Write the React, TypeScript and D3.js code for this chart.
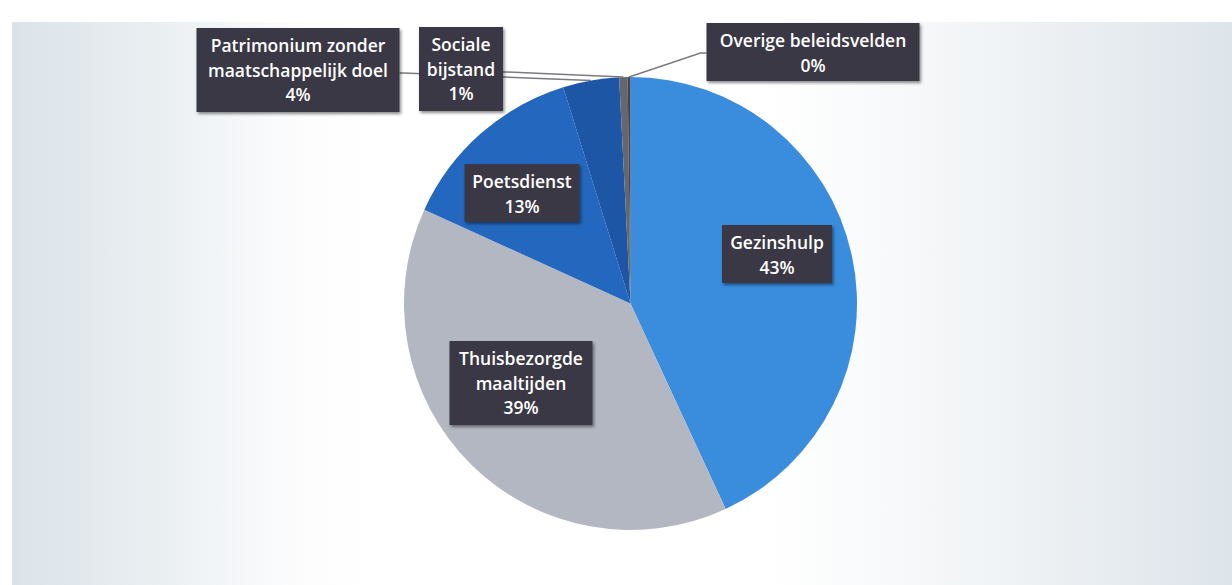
import React from "react";
import * as d3 from "d3";

const categories = [
  "Gezinshulp",
  "Thuisbezorgde maaltijden",
  "Poetsdienst",
  "Patrimonium zonder maatschappelijk doel",
  "Sociale bijstand",
  "Overige beleidsvelden",
];
const values = [43.1, 38.7, 13.4, 4.0, 0.6, 0.2];
const labelLines = [
  ["Gezinshulp"],
  ["Thuisbezorgde", "maaltijden"],
  ["Poetsdienst"],
  ["Patrimonium zonder", "maatschappelijk doel"],
  ["Sociale", "bijstand"],
  ["Overige beleidsvelden"],
];
const colors = ["#3a8cdd", "#b3b7c1", "#2467bf", "#1d56a4", "#66666f", "#44444c"];

// label box layout (center x, top y, width)
const boxes = [
  { cx: 777, top: 225, w: 110 },
  { cx: 521, top: 341, w: 143 },
  { cx: 522, top: 164, w: 115 },
  { cx: 298, top: 28, w: 203 },
  { cx: 461, top: 27, w: 84 },
  { cx: 813, top: 23, w: 213 },
];

const W = 1232;
const H = 585;
const cx = 630.5;
const cy = 303.5;
const R = 226.5;
const lineH = 24.5;

export default function App() {
  const pie = d3.pie<number>().sort(null).value((d) => d);
  const arcs = pie(values);
  const arc = d3.arc<d3.PieArcDatum<number>>().innerRadius(0).outerRadius(R);
  const edgeArc = d3.arc<d3.PieArcDatum<number>>().innerRadius(R).outerRadius(R);

  return (
    <svg
      width={W}
      height={H}
      style={{ position: "fixed", left: 0, top: 0 }}
      fontFamily="'Open Sans', sans-serif"
    >
      <defs>
        <linearGradient id="bg" x1="0" y1="0" x2="1" y2="0">
          <stop offset="0" stopColor="#dbe3e9" />
          <stop offset="0.12" stopColor="#eaeff2" />
          <stop offset="0.24" stopColor="#fdfdfe" />
          <stop offset="0.3" stopColor="#ffffff" />
          <stop offset="0.62" stopColor="#ffffff" />
          <stop offset="0.8" stopColor="#f1f4f6" />
          <stop offset="1" stopColor="#dde4ea" />
        </linearGradient>
        <filter id="sh" x="-10%" y="-10%" width="130%" height="140%">
          <feDropShadow dx="1.5" dy="2" stdDeviation="1.5" floodColor="#000" floodOpacity="0.45" />
        </filter>
      </defs>
      <rect x={0} y={0} width={W} height={H} fill="#ffffff" />
      <rect x={12} y={22} width={W - 12} height={H - 22} fill="url(#bg)" />

      <g transform={`translate(${cx},${cy})`}>
        {arcs.map((a, i) => (
          <path key={categories[i]} d={arc(a) || ""} fill={colors[i]} />
        ))}
      </g>

      {arcs.map((a, i) => {
        if (i < 3) return null;
        const [ex, ey] = edgeArc.centroid(a);
        const px = cx + ex;
        const py = cy + ey;
        const b = boxes[i];
        const edge = i === 5 ? b.cx - b.w / 2 : b.cx + b.w / 2;
        const nLines = labelLines[i].length + 1;
        const yMid = b.top + (nLines === 3 ? 45 : 30);
        const elbowX = i === 5 ? edge - 6 : edge + 4;
        return (
          <polyline
            key={"l" + i}
            points={`${edge},${yMid} ${elbowX},${yMid} ${px},${py}`}
            fill="none"
            stroke="#7a7a80"
            strokeWidth={1.5}
          />
        );
      })}

      {arcs.map((a, i) => {
        const b = boxes[i];
        const lines = [...labelLines[i], `${Math.round(values[i])}%`];
        const h = lines.length === 3 ? 84 : 58;
        return (
          <g key={"b" + i}>
            <rect
              x={b.cx - b.w / 2}
              y={b.top}
              width={b.w}
              height={h}
              fill="#3b3944"
              filter="url(#sh)"
            />
            {lines.map((t, j) => (
              <text
                key={j}
                x={b.cx}
                y={b.top + 24 + j * lineH}
                textAnchor="middle"
                fill="#ffffff"
                fontSize={17.5}
                fontWeight={600}
              >
                {t}
              </text>
            ))}
          </g>
        );
      })}
    </svg>
  );
}
